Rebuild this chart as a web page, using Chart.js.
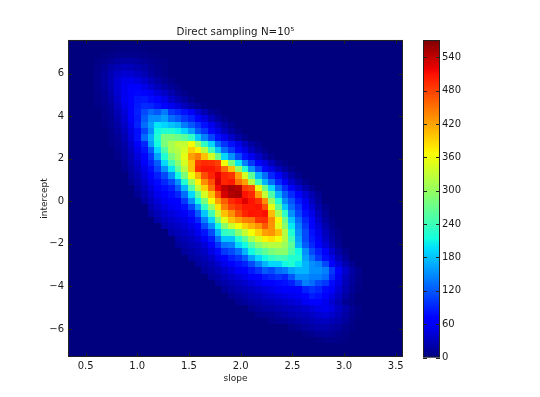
<!DOCTYPE html>
<html><head><meta charset="utf-8">
<script src="https://cdn.jsdelivr.net/npm/chart.js@4"></script>
<style>html,body{margin:0;padding:0;background:#fff}
#w{position:relative;width:540px;height:397px;overflow:hidden;filter:blur(0.35px)}
canvas{position:absolute;left:0;top:0}</style></head>
<body><div id="w"><canvas id="main" width="540" height="397"></canvas><canvas id="cbar" width="540" height="397"></canvas></div>
<script>
const chartTitle = 'Direct sampling N=10\u2075';
const slopeBins = [.362,.427,.492,.556,.621,.686,.751,.816,.880,.945,1.010,1.075,1.140,1.204,1.269,1.334,1.399,1.464,1.528,1.593,1.658,1.723,1.788,1.852,1.917,1.982,2.047,2.112,2.176,2.241,2.306,2.371,2.436,2.500,2.565,2.630,2.695,2.760,2.824,2.889,2.954,3.019,3.084,3.148,3.213,3.278,3.343,3.408,3.472,3.537];
const interceptBins = [7.431,7.133,6.835,6.537,6.239,5.941,5.643,5.345,5.047,4.749,4.451,4.153,3.855,3.557,3.259,2.961,2.663,2.365,2.067,1.769,1.471,1.173,0.875,0.577,0.279,-0.019,-0.317,-0.615,-0.913,-1.211,-1.509,-1.807,-2.105,-2.403,-2.701,-2.999,-3.297,-3.595,-3.893,-4.191,-4.489,-4.787,-5.085,-5.383,-5.681,-5.979,-6.277,-6.575,-6.873,-7.171];
// First non-empty slope bin of each intercept row, then the counts read from that bin onward.
const rowStart = [0,7,5,4,4,4,4,4,4,4,4,5,5,5,6,6,6,7,7,8,8,9,9,10,10,11,12,12,13,14,15,16,16,17,18,19,20,21,22,23,24,25,27,28,30,33,35,37,0,0];
const rowCounts = [
[],
[2,3,3,3,2],
[3,5,7,8,8,7,5,3,2],
[4,7,12,16,18,18,15,12,8,5,3],
[6,12,20,26,30,28,24,18,12,8,4],
[7,14,26,36,42,40,34,26,16,10,5],
[7,15,27,42,52,54,48,38,28,18,10,5],
[7,14,26,42,56,64,64,52,40,30,20,12,6],
[6,12,23,41,56,69,74,72,58,46,35,23,13,6],
[5,10,19,36,56,72,82,84,76,66,52,36,25,15,7],
[4,8,15,31,52,70,86,95,92,82,72,56,46,30,18,10,4],
[6,12,26,44,66,88,112,130,120,140,102,92,80,60,40,24,12,5],
[5,10,22,40,62,86,122,150,150,160,132,120,102,90,70,48,30,15,7],
[4,9,18,35,56,90,132,162,200,190,180,170,140,120,100,80,55,35,18,8],
[7,15,30,50,78,110,152,212,222,222,210,190,162,122,102,75,50,30,15,6],
[6,12,25,45,80,130,170,222,280,282,272,260,232,182,142,110,80,55,35,18,8],
[5,10,20,38,62,92,160,212,282,312,332,330,362,302,232,190,130,100,80,52,32,16,7],
[8,17,32,54,82,122,192,252,312,322,342,392,372,322,242,182,132,102,75,50,30,15,6],
[6,14,27,46,72,102,162,222,282,312,352,422,442,402,342,272,192,152,112,80,55,35,18,7],
[11,22,38,62,90,122,192,242,292,342,402,485,495,492,480,362,282,202,142,102,72,48,28,12,5],
[8,18,32,52,78,108,152,202,262,322,402,495,505,505,495,452,402,302,222,152,108,75,50,30,15,6],
[14,26,44,66,88,112,152,212,282,362,412,472,498,522,498,488,422,342,262,172,132,92,62,38,20,8],
[10,20,35,56,76,92,112,152,222,302,372,432,472,530,498,505,452,422,322,242,172,132,92,60,38,20,8],
[15,28,46,64,78,88,122,172,252,332,392,452,515,540,552,545,482,472,352,272,192,132,95,62,40,22,9],
[10,22,38,54,66,78,92,132,192,262,342,402,472,530,548,552,508,495,422,332,252,172,125,95,68,42,24,10],
[16,30,44,56,66,72,102,152,212,282,362,422,462,495,508,525,508,490,432,302,222,150,118,85,56,32,14],
[24,36,47,56,62,80,112,162,232,302,382,442,477,490,505,505,508,470,355,262,182,130,100,70,42,20,8],
[16,28,38,46,54,60,82,122,182,242,332,402,432,472,498,508,505,510,405,312,232,152,110,80,52,28,12],
[20,30,38,44,50,62,92,142,192,282,352,402,422,442,447,488,492,432,370,272,182,130,92,62,36,16,6],
[22,30,36,42,52,72,112,152,212,292,335,362,392,412,430,465,430,350,292,202,142,102,72,44,22,8],
[22,28,34,42,56,82,112,172,232,242,292,332,362,392,422,430,402,322,222,152,112,80,52,30,14,5],
[20,26,32,42,60,86,132,182,182,222,262,312,342,372,382,362,322,242,162,112,85,58,36,18,7],
[14,20,26,32,44,66,100,135,142,192,212,252,292,312,322,322,302,262,172,122,92,68,44,24,10],
[14,20,26,34,50,76,102,112,132,172,212,242,262,282,292,292,252,212,152,112,88,62,38,18,7],
[14,20,26,36,54,72,88,100,122,162,192,212,232,242,242,222,222,162,132,102,78,52,30,14],
[14,20,26,38,52,66,80,90,112,142,172,192,192,212,222,202,172,152,142,112,70,44,24,10],
[14,20,28,38,48,60,70,85,100,122,112,132,140,162,172,172,152,152,142,102,62,38,18,8],
[14,20,28,36,44,52,62,72,84,92,100,92,120,152,152,142,142,132,92,56,32,16,6],
[14,20,26,32,38,46,54,62,70,76,80,88,112,142,132,112,102,76,50,28,14,5],
[13,18,24,28,34,40,46,52,58,62,68,72,90,100,92,76,62,42,24,12,4],
[12,16,20,26,30,36,40,46,50,54,58,72,86,80,66,50,34,18,8],
[10,14,18,22,26,30,34,38,42,46,58,70,70,55,40,26,12,5],
[10,14,18,20,24,28,30,34,38,44,52,56,48,34,22,10,4],
[8,10,12,16,20,24,26,30,34,40,44,38,28,18,8,3],
[6,10,12,14,18,22,26,30,32,28,22,14,6],
[6,10,14,18,22,22,18,14,8,4],
[5,8,12,14,12,8,5],
[3,5,6,5,3],
[],
[]
];
const colorMax = 571;
const colorbarTicks = [0,60,120,180,240,300,360,420,480,540];
const jetStops = [[0,0,0,127],[.11,0,0,255],[.125,0,0,255],[.34,0,220,255],[.35,0,229,247],[.375,20,255,222],[.64,247,255,0],[.66,255,234,0],[.89,255,18,0],[.91,237,0,0],[1,127,0,0]];

function jet(t){
  t=Math.max(0,Math.min(1,t));
  for(let i=1;i<jetStops.length;i++){
    const a=jetStops[i-1],b=jetStops[i];
    if(t<=b[0]){const f=(t-a[0])/(b[0]-a[0]);
      return 'rgb('+[1,2,3].map(k=>Math.round(a[k]+(b[k]-a[k])*f)).join(',')+')';}
  }
  return 'rgb(127,0,0)';
}
const cellCache={};
function cellImage(v){
  const c=jet(v/colorMax);
  if(!cellCache[c]){const k=document.createElement('canvas');k.width=8;k.height=8;
    const g=k.getContext('2d');g.fillStyle=c;g.fillRect(0,0,8,8);cellCache[c]=k;}
  return cellCache[c];
}
const cells=[];
interceptBins.forEach((y,j)=>slopeBins.forEach((x,i)=>{
  const k=i-rowStart[j];
  const v=(k>=0&&k<rowCounts[j].length)?rowCounts[j][k]:0;
  cells.push({x,y,v});
}));
const textColor='#1a1a1a', tickFont={family:'"DejaVu Sans"',size:10};
const frame={id:'frame',afterDraw(ch){
  const g=ch.ctx,a=ch.chartArea;g.save();g.strokeStyle='#222';g.lineWidth=1;
  const mark=(s,hor)=>s.ticks.forEach((t,i)=>{const p=Math.round(s.getPixelForTick(i))+.5;g.beginPath();
    if(hor){g.moveTo(p,a.bottom);g.lineTo(p,a.bottom-4);g.moveTo(p,a.top);g.lineTo(p,a.top+4);}
    else{g.moveTo(a.left,p);g.lineTo(a.left+4,p);g.moveTo(a.right,p);g.lineTo(a.right-4,p);}
    g.stroke();});
  if(ch.canvas.id==='main'){mark(ch.scales.x,true);mark(ch.scales.y,false);}else{mark(ch.scales.y,false);}
  g.strokeRect(a.left+.5,a.top+.5,a.right-a.left-1,a.bottom-a.top-1);g.restore();}};
new Chart(document.getElementById('main'),{
  type:'scatter',
  data:{datasets:[{data:cells,pointRadius:4,pointStyle:c=>cellImage(c.raw.v),borderWidth:0,clip:true}]},
  options:{responsive:false,animation:false,events:[],
    layout:{padding:{right:137}},
    plugins:{legend:{display:false},tooltip:{enabled:false},
      title:{display:true,fullSize:false,text:chartTitle,color:textColor,font:{family:'"DejaVu Sans"',size:10.3,weight:'normal'},padding:{top:26,bottom:1.6},position:'top'}},
    scales:{
      x:{type:'linear',min:.33,max:3.57,grid:{display:false,drawTicks:false},border:{display:false},
        afterFit(s){s.height=40;},
        title:{display:true,text:'slope',color:textColor,font:{...tickFont,size:9},padding:{top:0,bottom:13}},
        ticks:{stepSize:.5,includeBounds:false,maxRotation:0,autoSkip:false,padding:3,color:textColor,font:tickFont,callback:v=>Number(v).toFixed(1)}},
      y:{type:'linear',min:-7.32,max:7.58,grid:{display:false,drawTicks:false},border:{display:false},
        afterFit(s){s.width=68;},
        title:{display:true,text:'intercept',color:textColor,font:{...tickFont,size:9},padding:{top:39,bottom:0}},
        ticks:{stepSize:2,includeBounds:false,autoSkip:false,padding:4,color:textColor,font:tickFont,callback:v=>String(v).replace('-','\u2212')}}
    }},
  plugins:[frame]
});
new Chart(document.getElementById('cbar'),{
  type:'bar',
  data:{labels:['count'],datasets:[{data:[[0,colorMax]],barPercentage:1,categoryPercentage:1,borderWidth:0,
    backgroundColor(c){const a=c.chart.chartArea;if(!a)return '#000';
      const gr=c.chart.ctx.createLinearGradient(0,a.bottom,0,a.top);
      jetStops.forEach(s=>gr.addColorStop(s[0],'rgb('+s[1]+','+s[2]+','+s[3]+')'));return gr;}}]},
  options:{responsive:false,animation:false,events:[],
    layout:{padding:{left:423,top:40,bottom:39.5}},
    plugins:{legend:{display:false},tooltip:{enabled:false}},
    scales:{
      x:{display:false},
      y:{position:'right',min:0,max:colorMax,grid:{display:false,drawTicks:false},border:{display:false},
        afterFit(s){s.width=100;},
        afterBuildTicks(s){s.ticks=colorbarTicks.map(value=>({value}));},
        ticks:{autoSkip:false,padding:2,color:textColor,font:tickFont}}
    }},
  plugins:[frame]
});
</script></body></html>
